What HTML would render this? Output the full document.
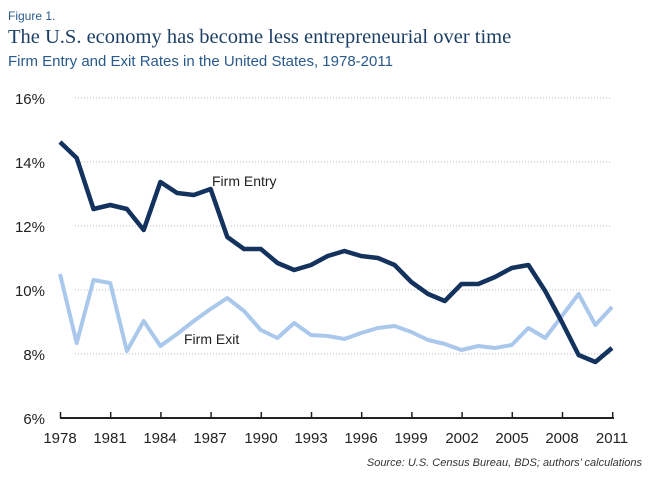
<!DOCTYPE html>
<html><head><meta charset="utf-8"><style>
body{margin:0;background:#fff;width:660px;height:482px;overflow:hidden}
</style></head><body>
<svg width="660" height="482" xmlns="http://www.w3.org/2000/svg" font-family="Liberation Sans, sans-serif">
<text x="8" y="20" font-size="12" fill="#2a5a8a">Figure 1.</text>
<text x="8" y="43" font-size="20.5" fill="#1c3f66" font-family="Liberation Serif, serif">The U.S. economy has become less entrepreneurial over time</text>
<text x="8" y="66" font-size="15" fill="#2a5a8a">Firm Entry and Exit Rates in the United States, 1978-2011</text>
<g stroke="#bbb" stroke-width="1" stroke-dasharray="1,2">
<line x1="75" y1="98" x2="612" y2="98"/><line x1="75" y1="162" x2="612" y2="162"/><line x1="75" y1="226" x2="612" y2="226"/><line x1="75" y1="290" x2="612" y2="290"/><line x1="75" y1="354" x2="612" y2="354"/>
</g>
<g font-size="15" fill="#222" text-anchor="end">
<text x="45" y="104">16%</text><text x="45" y="168">14%</text><text x="45" y="232">12%</text><text x="45" y="296">10%</text><text x="45" y="360">8%</text><text x="45" y="424">6%</text>
</g>
<line x1="60" y1="418" x2="614" y2="418" stroke="#222" stroke-width="2"/>
<g stroke="#222" stroke-width="1.5">
<line x1="60.5" y1="412" x2="60.5" y2="418"/><line x1="110.7" y1="412" x2="110.7" y2="418"/><line x1="160.9" y1="412" x2="160.9" y2="418"/><line x1="211.1" y1="412" x2="211.1" y2="418"/><line x1="261.3" y1="412" x2="261.3" y2="418"/><line x1="311.5" y1="412" x2="311.5" y2="418"/><line x1="361.7" y1="412" x2="361.7" y2="418"/><line x1="411.9" y1="412" x2="411.9" y2="418"/><line x1="462.1" y1="412" x2="462.1" y2="418"/><line x1="512.3" y1="412" x2="512.3" y2="418"/><line x1="562.5" y1="412" x2="562.5" y2="418"/><line x1="612.7" y1="412" x2="612.7" y2="418"/>
</g>
<g font-size="15" fill="#222" text-anchor="middle">
<text x="60" y="443">1978</text><text x="110" y="443">1981</text><text x="160" y="443">1984</text><text x="210" y="443">1987</text><text x="261" y="443">1990</text><text x="311" y="443">1993</text><text x="361" y="443">1996</text><text x="411" y="443">1999</text><text x="462" y="443">2002</text><text x="512" y="443">2005</text><text x="562" y="443">2008</text><text x="612" y="443">2011</text>
</g>
<text x="642" y="466" font-size="11" font-style="italic" fill="#333" text-anchor="end">Source: U.S. Census Bureau, BDS; authors’ calculations</text>
<polyline fill="none" stroke="#a9c8ec" stroke-width="4" stroke-linejoin="round" points="60,274 76.7,343 93.5,280 110.2,283 126.9,351 143.7,321 160.4,346 177.1,334 193.8,321 210.6,309 227.3,298 244,311 260.8,330 277.5,338 294.2,323 311,335 327.7,336 344.4,339 361.1,333 377.9,328 394.6,326 411.3,332 428.1,340 444.8,344 461.5,350 478.3,346 495,348 511.7,345 528.4,328 545.2,338 561.9,316 578.6,294 595.4,325 612,307"/>
<polyline fill="none" stroke="#13325e" stroke-width="4.5" stroke-linejoin="round" points="60,142 76.7,158 93.5,209 110.2,205 126.9,209 143.7,230 160.4,182 177.1,193 193.8,195 210.6,189 227.3,237 244,249 260.8,249 277.5,263 294.2,270 311,265 327.7,256 344.4,251 361.1,256 377.9,258 394.6,265 411.3,282 428.1,294 444.8,301 461.5,284 478.3,284 495,277 511.7,268 528.4,265 545.2,291 561.9,322 578.6,355 595.4,362 612,348"/>
<text x="212" y="186" font-size="14" fill="#222">Firm Entry</text>
<text x="184" y="344" font-size="14" fill="#222">Firm Exit</text>
</svg>
</body></html>
